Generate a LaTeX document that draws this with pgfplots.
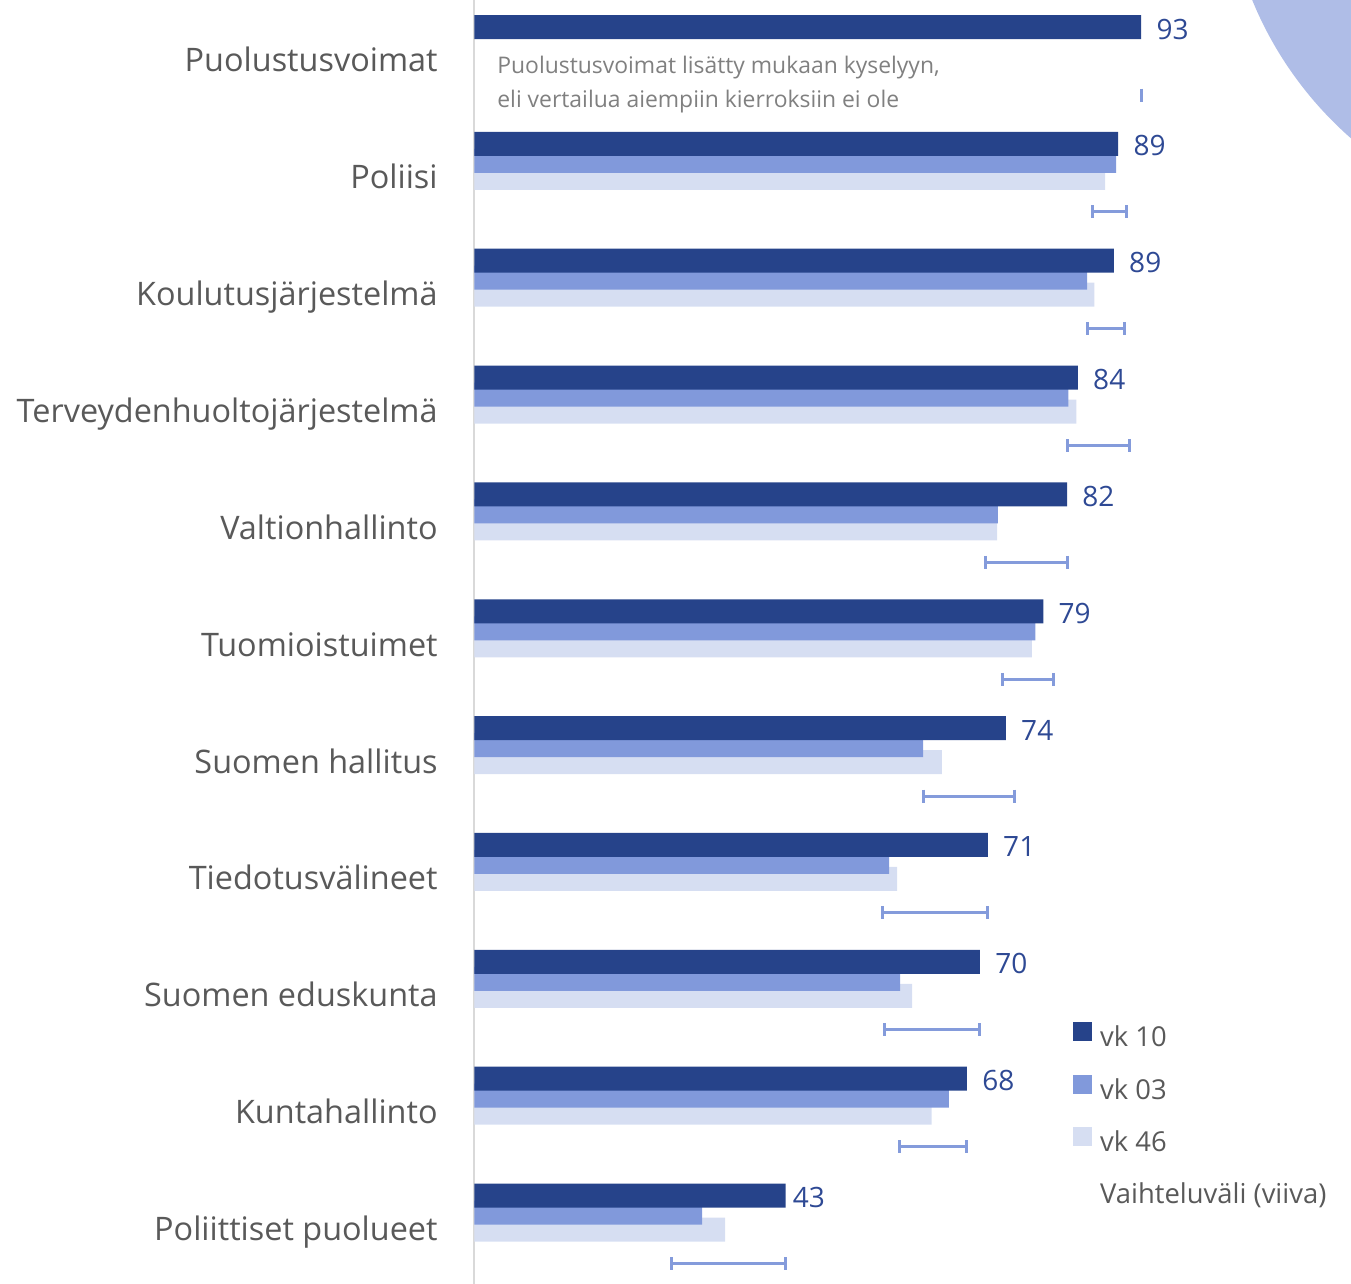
\documentclass[border=0pt]{standalone}
\usepackage{fontspec}
\setmainfont{Open Sans}
\usepackage{pgfplots}
\pgfplotsset{compat=1.18}
\usepackage{pgfplotstable}
\definecolor{c10}{RGB}{38,67,138}
\definecolor{c03}{RGB}{129,153,219}
\definecolor{c46}{RGB}{214,222,242}
\definecolor{crange}{RGB}{132,155,219}
\definecolor{ccircle}{RGB}{175,189,231}
\definecolor{cnum}{RGB}{46,73,148}
\definecolor{ctext}{RGB}{89,89,89}
\definecolor{cnote}{RGB}{128,128,128}
\definecolor{caxis}{RGB}{217,217,217}

\pgfplotstableread{
i v dx
0 92.6 7.5
1 89.4 7.5
2 88.8 7.5
3 83.8 7.5
4 82.3 7.5
5 79.0 7.5
6 73.8 7.5
7 71.3 7.5
8 70.2 7.5
9 68.4 7.5
10 43.2 3.5
}\vkten
\pgfplotstableread{
i v
1 89.1
2 85.1
3 82.5
4 72.7
5 77.9
6 62.3
7 57.6
8 59.1
9 65.9
10 31.6
}\vkthree
\pgfplotstableread{
i v
1 87.6
2 86.1
3 83.6
4 72.6
5 77.4
6 64.9
7 58.7
8 60.8
9 63.5
10 34.8
}\vkfs
\pgfplotstableread{
i v
0 92.6
0 nan
1 85.8
1 90.5
1 nan
2 85.1
2 90.3
2 nan
3 82.3
3 91.0
3 nan
4 71.0
4 82.3
4 nan
5 73.4
5 80.4
5 nan
6 62.3
6 75.0
6 nan
7 56.6
7 71.3
7 nan
8 56.9
8 70.2
8 nan
9 59.0
9 68.4
9 nan
10 27.4
10 43.2
}\vrange

\begin{document}
\begin{tikzpicture}
\begin{axis}[
  scale only axis, width=675.5pt, height=642pt,
  xmin=-65.90, xmax=121.74, ymin=-0.2311, ymax=10.757, y dir=reverse,
  axis line style={draw=none}, xtick=\empty,
  ytick={0.385,1.385,2.385,3.385,4.385,5.385,6.385,7.385,8.385,9.385,10.385},
  yticklabels={Puolustusvoimat,Poliisi,Koulutusjärjestelmä,Terveydenhuoltojärjestelmä,Valtionhallinto,Tuomioistuimet,Suomen hallitus,Tiedotusvälineet,Suomen eduskunta,Kuntahallinto,Poliittiset puolueet},
  tick style={draw=none}, major tick length=0pt,
  yticklabel style={anchor=base east, inner sep=0pt, xshift=219pt, font=\fontsize{16.2}{19}\selectfont, text=ctext},
  legend image code/.code={\fill[#1] (0pt,0pt) rectangle (9pt,9pt);},
  legend style={at={(0.7942,0.2041)}, anchor=north west, draw=none, fill=none, inner sep=0pt, row sep=11pt, column sep=4pt, font=\fontsize{13.7}{16}\selectfont, text=ctext, nodes={inner sep=0pt, text height=9pt, text depth=3pt}},
  legend cell align=left,
]
\fill[ccircle, overlay] (axis cs:155.6,-1.429) circle[radius=185pt];
\addlegendimage{c10}\addlegendentry{vk 10}
\addlegendimage{c03}\addlegendentry{vk 03}
\addlegendimage{c46}\addlegendentry{vk 46}
\addlegendimage{white, opacity=0}\addlegendentry{Vaihteluväli (viiva)}
\addplot[caxis, line width=1pt, forget plot] coordinates {(0,-0.2311) (0,10.757)};
\addplot[xbar, bar width=0.2054, bar shift=0pt, fill=c46, draw=none, forget plot] table[x=v, y expr=\thisrow{i}+0.291]{\vkfs};
\addplot[xbar, bar width=0.2054, bar shift=0pt, fill=c03, draw=none, forget plot] table[x=v, y expr=\thisrow{i}+0.1455]{\vkthree};
\addplot[xbar, bar width=0.2054, bar shift=0pt, fill=c10, draw=none, forget plot,
  point meta=x,
  visualization depends on={\thisrow{dx} \as \dx},
  nodes near coords={\pgfmathprintnumber[fixed,precision=0,assume math mode=true]{\pgfplotspointmeta}},
  every node near coord/.append style={anchor=west, inner sep=0pt, xshift=\dx pt, yshift=-1pt, font=\fontsize{14}{16}\selectfont, text=cnum}]
  table[x=v, y expr=\thisrow{i}]{\vkten};
\addplot[crange, line width=1.5pt, mark=|, mark size=3.25pt, mark options={line width=1.5pt}, unbounded coords=jump, forget plot] table[x=v, y expr=\thisrow{i}+0.582]{\vrange};
\node[anchor=base west, inner sep=0pt, font=\fontsize{11.45}{13}\selectfont, text=cnote] at (axis cs:3.125,0.394) {Puolustusvoimat lisätty mukaan kyselyyn,};
\node[anchor=base west, inner sep=0pt, font=\fontsize{11.45}{13}\selectfont, text=cnote] at (axis cs:3.125,0.685) {eli vertailua aiempiin kierroksiin ei ole};
\end{axis}
\end{tikzpicture}
\end{document}
